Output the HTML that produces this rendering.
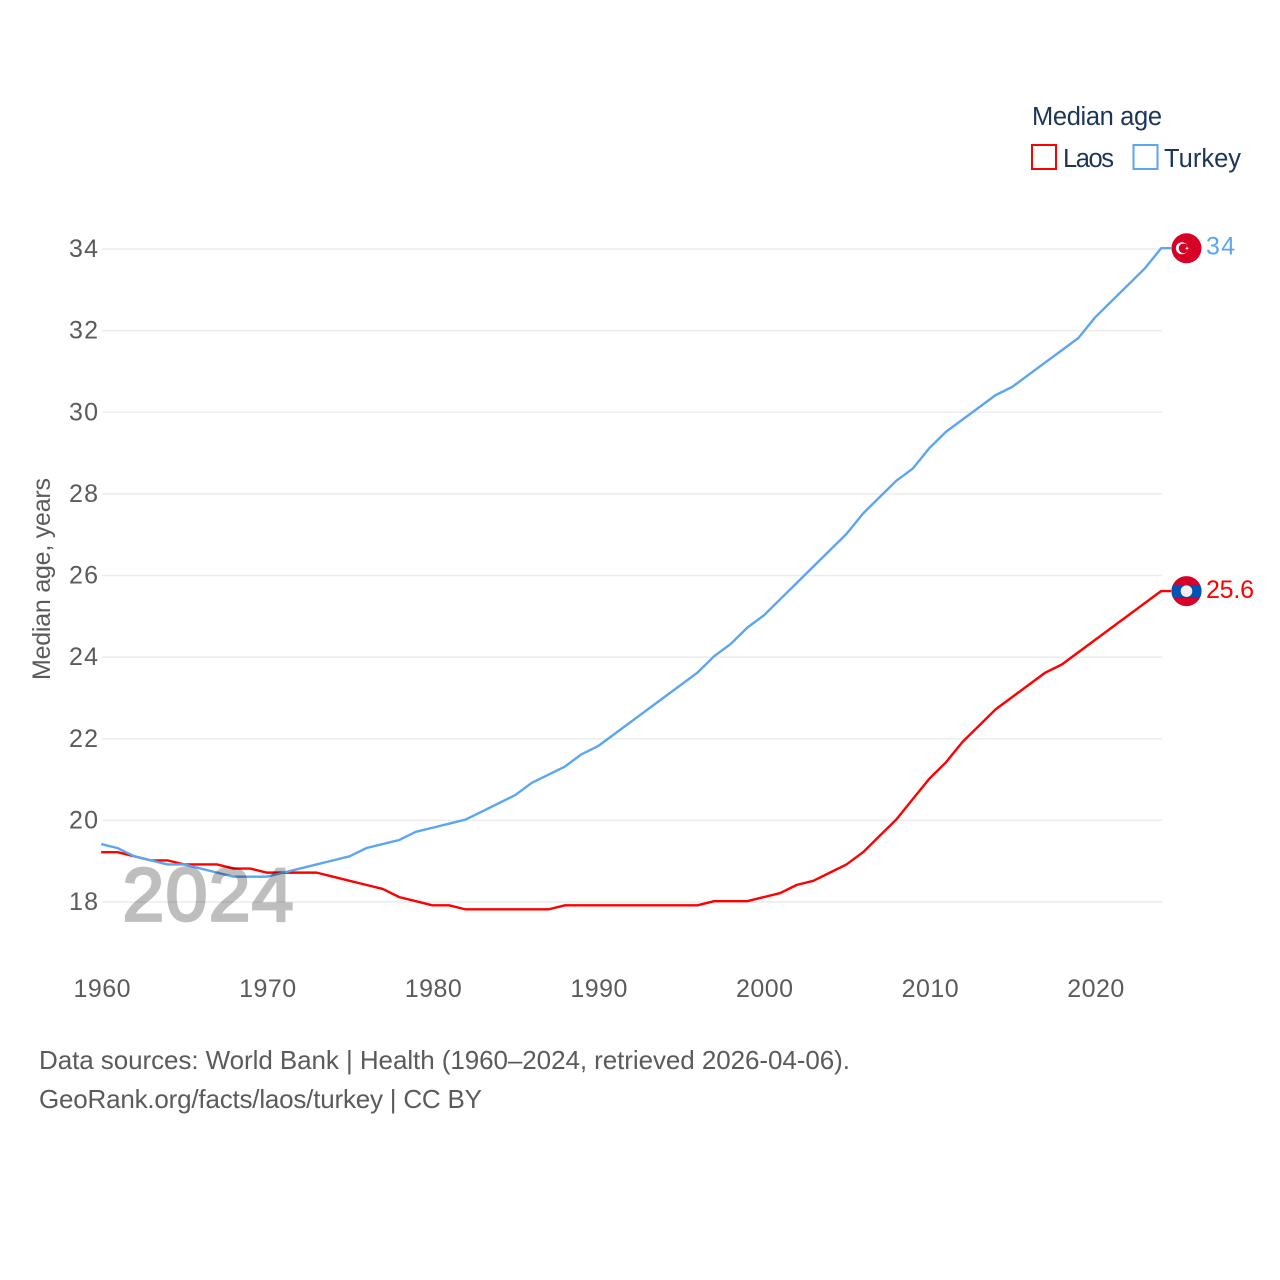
<!DOCTYPE html>
<html lang="en">
<head>
<meta charset="utf-8">
<title>Median age: Laos and Turkey</title>
<style>
html,body{margin:0;padding:0;background:#fff;width:1280px;height:1280px;overflow:hidden}
svg{display:block}
text{font-family:"Liberation Sans",sans-serif}
</style>
</head>
<body>
<svg id="chart" width="1280" height="1280" viewBox="0 0 1280 1280" xmlns="http://www.w3.org/2000/svg">
  <g id="grid"></g>
  <g id="yticks"></g>
  <g id="xticks"></g>
  <text transform="translate(50,680) rotate(-90)" font-size="25" fill="#5b5b5b" textLength="202" lengthAdjust="spacing">Median age, years</text>
  <g id="series" transform="translate(-0.8,-0.8)"></g>
  <text x="122.5" y="920.5" font-size="75" fill="#000" stroke="#000" stroke-width="2.8" opacity="0.25" textLength="171" lengthAdjust="spacing">2024</text>

  <g>
    <text x="1032" y="125" font-size="25.5" fill="#1d3557" textLength="130" lengthAdjust="spacing">Median age</text>
    <rect x="1032" y="145" width="24" height="24" fill="#fff" stroke="#ff0000" stroke-width="2"></rect>
    <text x="1063" y="167" font-size="25.5" fill="#1d3557" textLength="51" lengthAdjust="spacing">Laos</text>
    <rect x="1133.5" y="145" width="24" height="24" fill="#fff" stroke="#5ca6ef" stroke-width="2"></rect>
    <text x="1164" y="167" font-size="25.5" fill="#1d3557" textLength="77" lengthAdjust="spacing">Turkey</text>
  </g>

  <g id="endmarks"></g>

  <text x="39" y="1069" font-size="26" fill="#5b5b5b" textLength="811" lengthAdjust="spacing">Data sources: World Bank | Health (1960–2024, retrieved 2026-04-06).</text>
  <text x="39" y="1108" font-size="26" fill="#5b5b5b" textLength="443" lengthAdjust="spacing">GeoRank.org/facts/laos/turkey | CC BY</text>
</svg>
<script>
const years = [1960,1961,1962,1963,1964,1965,1966,1967,1968,1969,1970,1971,1972,1973,1974,1975,1976,1977,1978,1979,1980,1981,1982,1983,1984,1985,1986,1987,1988,1989,1990,1991,1992,1993,1994,1995,1996,1997,1998,1999,2000,2001,2002,2003,2004,2005,2006,2007,2008,2009,2010,2011,2012,2013,2014,2015,2016,2017,2018,2019,2020,2021,2022,2023,2024];
const turkeyValues = [19.4,19.3,19.1,19.0,18.9,18.9,18.8,18.7,18.6,18.6,18.6,18.7,18.8,18.9,19.0,19.1,19.3,19.4,19.5,19.7,19.8,19.9,20.0,20.2,20.4,20.6,20.9,21.1,21.3,21.6,21.8,22.1,22.4,22.7,23.0,23.3,23.6,24.0,24.3,24.7,25.0,25.4,25.8,26.2,26.6,27.0,27.5,27.9,28.3,28.6,29.1,29.5,29.8,30.1,30.4,30.6,30.9,31.2,31.5,31.8,32.3,32.7,33.1,33.5,34.0];
const laosValues = [19.2,19.2,19.1,19.0,19.0,18.9,18.9,18.9,18.8,18.8,18.7,18.7,18.7,18.7,18.6,18.5,18.4,18.3,18.1,18.0,17.9,17.9,17.8,17.8,17.8,17.8,17.8,17.8,17.9,17.9,17.9,17.9,17.9,17.9,17.9,17.9,17.9,18.0,18.0,18.0,18.1,18.2,18.4,18.5,18.7,18.9,19.2,19.6,20.0,20.5,21.0,21.4,21.9,22.3,22.7,23.0,23.3,23.6,23.8,24.1,24.4,24.7,25.0,25.3,25.6];
const yTickValues = [18,20,22,24,26,28,30,32,34];
const xTickValues = [1960,1970,1980,1990,2000,2010,2020];
const turkeyEndLabel = "34";
const laosEndLabel = "25.6";

const NS = "http://www.w3.org/2000/svg";
const plotLeft = 102, plotRight = 1162;
function xScale(year){ return plotLeft + (year - 1960) * (plotRight - plotLeft) / 64; }
function yScale(v){ return 902 - (v - 18) * (902 - 249) / 16; }
function make(tag, parent, attrs){
  const el = document.createElementNS(NS, tag);
  for (const k in attrs) el.setAttribute(k, attrs[k]);
  parent.appendChild(el);
  return el;
}
const grid = document.getElementById('grid');
const yticks = document.getElementById('yticks');
const xticks = document.getElementById('xticks');
const series = document.getElementById('series');
const endmarks = document.getElementById('endmarks');

yTickValues.forEach(function(v){
  const line = make('line', grid, {x1:plotLeft, x2:plotRight, y1:yScale(v), y2:yScale(v), stroke:'#ececec', 'stroke-width':1.6});
  
  
  const t = make('text', yticks, {x:98, y:yScale(v)+8, 'text-anchor':'end', 'font-size':25, fill:'#5b5b5b', textLength:29, lengthAdjust:'spacing'});
  
  
  t.textContent = v;
});
xTickValues.forEach(function(v){
  const t = make('text', xticks, {x:xScale(v), y:997, 'text-anchor':'middle', 'font-size':25, fill:'#5b5b5b', textLength:57, lengthAdjust:'spacing'});
  
  
  t.textContent = v;
});

function linePath(values){
  const pts = values.map(function(v,i){ return xScale(years[i]).toFixed(2) + ',' + yScale(v).toFixed(2); });
  const last = values[values.length-1];
  pts.push((xScale(years[years.length-1]) + 10) + ',' + yScale(last).toFixed(2));
  return 'M' + pts.join('L');
}
const laosLine = make('path', series, {d:linePath(laosValues), fill:'none', stroke:'#ff0000', 'stroke-width':2.4, 'stroke-linejoin':'round'});


const turkeyLine = make('path', series, {d:linePath(turkeyValues), fill:'none', stroke:'#5ca6ef', 'stroke-width':2.4, 'stroke-linejoin':'round'});



const flagX = 1186.5;
const ty = yScale(turkeyValues[turkeyValues.length-1]) - 0.7;
const ly = yScale(laosValues[laosValues.length-1]) - 0.7;

const tFlag = make('g', endmarks, {transform:'translate(' + flagX + ',' + ty + ')'});


make('circle', tFlag, {r:15, fill:'#d80027'});
make('circle', tFlag, {cx:-4.6, cy:0, r:6, fill:'#fff'});
make('circle', tFlag, {cx:-3, cy:0, r:4.8, fill:'#d80027'});
make('polygon', tFlag, {points:'-1.6,0 -0.1,-0.6 0.5,-2.2 1.1,-0.6 2.6,0 1.1,0.6 0.5,2.2 -0.1,0.6', fill:'#fff'});

const lFlag = make('g', endmarks, {transform:'translate(' + flagX + ',' + ly + ')'});


make('circle', lFlag, {r:15, fill:'#d80027'});
make('path', lFlag, {d:'M-13.67,-6.2H13.67A15,15 0 0 1 13.67,6.2H-13.67A15,15 0 0 1 -13.67,-6.2Z', fill:'#0052b4'});
make('circle', lFlag, {r:5.8, fill:'#f0f0f0'});

const tLabel = make('text', endmarks, {x:1206, y:ty+6, 'font-size':25, fill:'#5ca6ef', textLength:29, lengthAdjust:'spacing'});


tLabel.textContent = turkeyEndLabel;
const lLabel = make('text', endmarks, {x:1206, y:ly+7, 'font-size':25, fill:'#ff0000', textLength:48, lengthAdjust:'spacing'});


lLabel.textContent = laosEndLabel;
</script>
</body>
</html>
